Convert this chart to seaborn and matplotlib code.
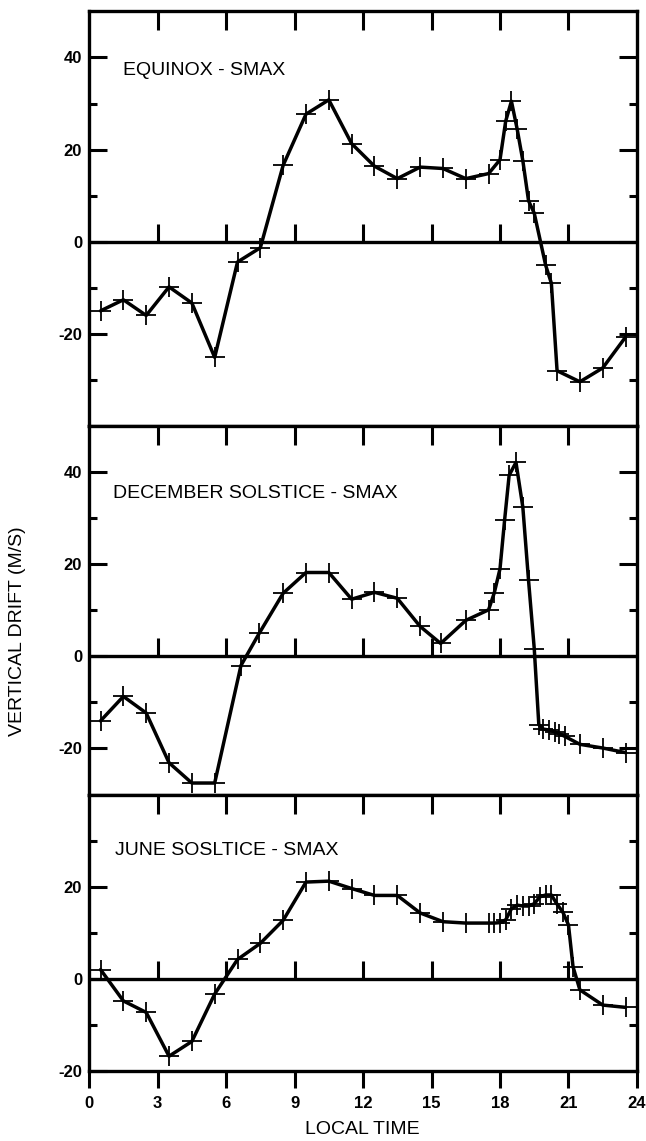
import numpy as np
import pandas as pd
import matplotlib
matplotlib.use("Agg")
import matplotlib.pyplot as plt
import seaborn as sns

# Equinox - solar max
eq_time = [0.5, 1.5, 2.5, 3.5, 4.5, 5.5, 6.5, 7.5, 8.5, 9.5, 10.5, 11.5, 12.5, 13.5, 14.5,
           15.5, 16.5, 17.5, 18.0, 18.25, 18.5, 18.75, 19.0, 19.25, 19.5, 20.0, 20.25, 20.5,
           21.5, 22.5, 23.5]
eq_drift = [-15.0, -12.6, -16.0, -9.8, -13.3, -25.1, -4.4, -1.3, 16.6, 27.7, 30.8, 21.3, 16.4,
            13.7, 16.2, 15.9, 13.7, 14.8, 17.8, 26.2, 30.5, 24.5, 17.6, 8.9, 6.2, -5.1, -9.0,
            -28.0, -30.4, -27.4, -20.7]

# December solstice - solar max
dec_time = [0.5, 1.5, 2.5, 3.5, 4.5, 5.5, 6.65, 7.45, 8.5, 9.5, 10.5, 11.5, 12.5, 13.5, 14.5,
            15.4, 16.5, 17.5, 17.75, 18.0, 18.2, 18.4, 18.7, 19.0, 19.25, 19.5, 19.7, 19.9,
            20.15, 20.4, 20.6, 20.85, 21.5, 22.5, 23.5]
dec_drift = [-14.0, -8.7, -12.3, -23.1, -27.5, -27.5, -2.0, 5.0, 13.7, 18.2, 18.2, 12.4, 13.9,
             12.6, 6.5, 2.8, 7.8, 10.1, 13.8, 19.0, 29.5, 39.3, 42.1, 32.4, 16.5, 1.7, -14.8,
             -15.8, -16.0, -16.4, -16.8, -17.4, -19.1, -19.9, -20.9]

# June solstice - solar max
jun_time = [0.5, 1.5, 2.5, 3.5, 4.5, 5.5, 6.5, 7.5, 8.5, 9.5, 10.5, 11.5, 12.5, 13.5, 14.5,
            15.5, 16.5, 17.5, 17.75, 18.0, 18.25, 18.5, 18.75, 19.0, 19.25, 19.5, 19.75, 20.0,
            20.25, 20.5, 20.75, 21.0, 21.2, 21.5, 22.5, 23.5]
jun_drift = [2.0, -4.8, -7.3, -16.8, -13.6, -3.3, 4.2, 7.7, 12.7, 21.0, 21.2, 19.6, 18.1, 18.1,
             14.3, 12.4, 12.1, 12.1, 12.1, 12.2, 12.8, 15.2, 16.0, 15.8, 15.8, 16.3, 17.8, 18.2,
             18.2, 16.2, 14.5, 11.7, 2.6, -2.4, -5.7, -6.2]

labels = ["EQUINOX - SMAX", "DECEMBER SOLSTICE - SMAX", "JUNE SOSLTICE - SMAX"]
hours = [0, 3, 6, 9, 12, 15, 18, 21, 24]

sns.set_style("ticks", {'axes.edgecolor': 'black', 'text.color': 'black',
                        'xtick.color': 'black', 'ytick.color': 'black',
                        'axes.labelcolor': 'black'})
plt.rcParams['font.family'] = ['Liberation Sans', 'DejaVu Sans']
plt.rcParams['axes.unicode_minus'] = False

fig, axes = plt.subplots(3, 1, figsize=(6.46, 11.41), dpi=100, sharex=True,
                         gridspec_kw={'height_ratios': [90, 80, 60], 'hspace': 0})
fig.subplots_adjust(left=0.138, right=0.986, top=0.990, bottom=0.0614, hspace=0)

panels = [
    (eq_time, eq_drift, (-40, 50), [-20, 0, 20, 40], [-30, -10, 10, 30], (0.062, 0.858)),
    (dec_time, dec_drift, (-30, 50), [-20, 0, 20, 40], [-10, 10, 30], (0.044, 0.818)),
    (jun_time, jun_drift, (-20, 40), [-20, 0, 20], [-10, 10, 30], (0.048, 0.797)),
]

for i, (ax, (t, v, ylim, ymaj, ymin, pos)) in enumerate(zip(axes, panels)):
    df = pd.DataFrame({'time': t, 'drift': v})
    sns.lineplot(data=df, x='time', y='drift', ax=ax, color='black', lw=2.5,
                 marker='+', markersize=14, markeredgewidth=1.3, markeredgecolor='black',
                 estimator=None, sort=False)
    ax.axhline(0, color='black', lw=2.4)
    # little ticks sitting on the zero line
    ax.vlines(hours[1:-1], 0, 3.9, color='black', lw=2.2)

    ax.set_xlim(0, 24)
    ax.set_ylim(*ylim)
    ax.set_xlabel('')
    ax.set_ylabel('')
    ax.set_yticks(ymaj)
    ax.set_yticks(ymin, minor=True)
    ax.tick_params(axis='y', which='both', direction='in', left=True, right=True, width=2.2)
    ax.tick_params(axis='y', which='major', length=13, labelsize=12, pad=5)
    ax.tick_params(axis='y', which='minor', length=6)
    for lbl in ax.get_yticklabels():
        lbl.set_fontweight('bold')

    top = ax.secondary_xaxis('top')
    top.set_xticks(hours[1:-1])
    top.tick_params(direction='in', length=14, width=2.2, labeltop=False)

    for s in ax.spines.values():
        s.set_linewidth(2.4)

    ax.text(pos[0], pos[1], labels[i], transform=ax.transAxes, va='center', ha='left',
            fontsize=14)

    if i < 2:
        ax.tick_params(axis='x', bottom=False, labelbottom=False)

ax = axes[2]
ax.set_xticks(hours)
ax.tick_params(axis='x', direction='out', length=12, width=2.2, labelsize=12, pad=6,
               bottom=True, labelbottom=True)
for lbl in ax.get_xticklabels():
    lbl.set_fontweight('bold')

fig.text(0.027, 0.4465, 'VERTICAL DRIFT (M/S)', rotation=90, va='center', ha='center',
         fontsize=14)
fig.text(0.561, 0.0105, 'LOCAL TIME', va='center', ha='center', fontsize=14)

fig.savefig('out.png', dpi=100)
